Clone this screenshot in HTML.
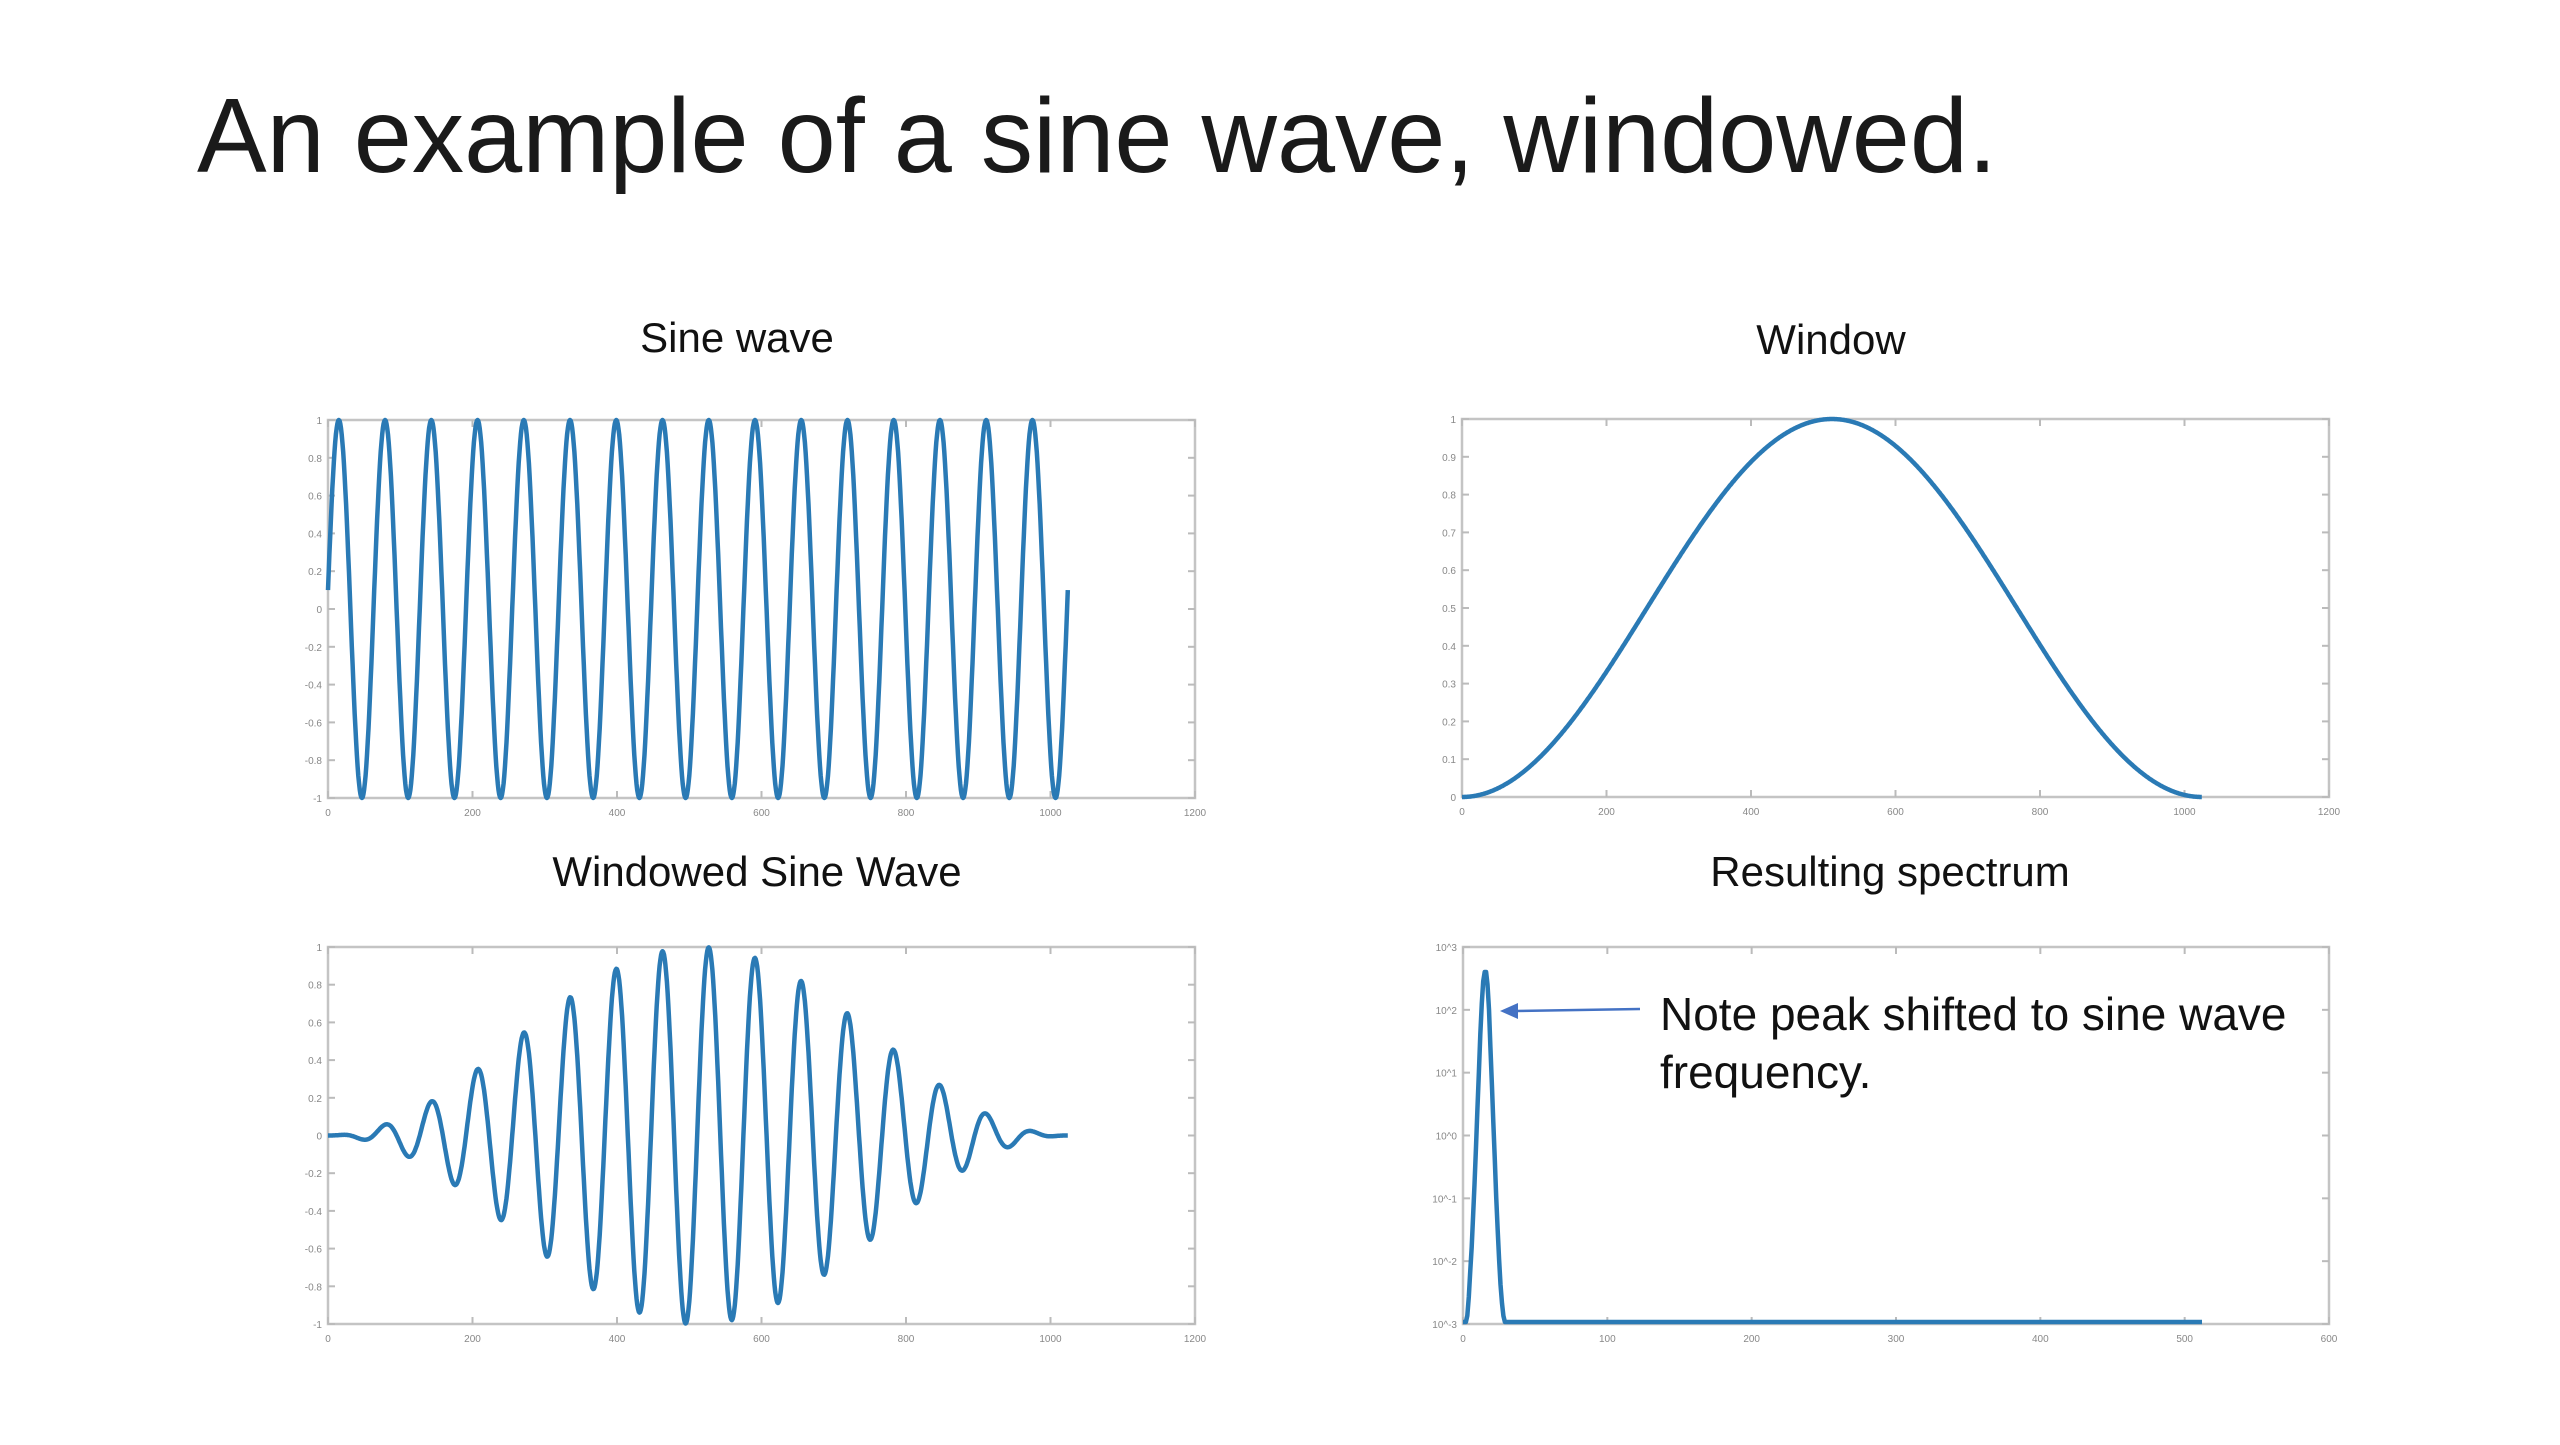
<!DOCTYPE html>
<html>
<head>
<meta charset="utf-8">
<style>
html,body{margin:0;padding:0;background:#fff;}
body{width:2560px;height:1440px;overflow:hidden;position:relative;font-family:"Liberation Sans",sans-serif;}
svg text{font-family:"Liberation Sans",sans-serif;}
</style>
</head>
<body>
<svg id="root" width="2560" height="1440" viewBox="0 0 2560 1440" xmlns="http://www.w3.org/2000/svg">
  <text x="197" y="172" font-size="106" fill="#1a1a1a" textLength="1800" lengthAdjust="spacingAndGlyphs">An example of a sine wave, windowed.</text>
  <text x="737" y="352" font-size="42" fill="#111" text-anchor="middle">Sine wave</text>
  <text x="1831" y="354" font-size="42" fill="#111" text-anchor="middle">Window</text>
  <text x="757" y="886" font-size="42" fill="#111" text-anchor="middle">Windowed Sine Wave</text>
  <text x="1890" y="886" font-size="42" fill="#111" text-anchor="middle">Resulting spectrum</text>
  <g id="plots"></g>
  <line x1="1640" y1="1009" x2="1515" y2="1011" stroke="#4472c4" stroke-width="2.5"/>
  <polygon points="1500,1011 1518,1003 1518,1019" fill="#4472c4"/>
  <text x="1660" y="1030" font-size="46" fill="#111">Note peak shifted to sine wave</text>
  <text x="1660" y="1088" font-size="46" fill="#111">frequency.</text>
</svg>
<script>
// ---- data ----
const sampleCount = [1024];
const sineCycles = [16];
const sineAmplitude = [1];
const sinePhase = [0.1];
const sineXTicks = ["0","200","400","600","800","1000","1200"];
const sineYTicks = ["-1","-0.8","-0.6","-0.4","-0.2","0","0.2","0.4","0.6","0.8","1"];
const windowYTicks = ["0","0.1","0.2","0.3","0.4","0.5","0.6","0.7","0.8","0.9","1"];
const spectrumXTicks = ["0","100","200","300","400","500","600"];
const spectrumYTicks = ["10^-3","10^-2","10^-1","10^0","10^1","10^2","10^3"];
// log10 magnitude, bins 0..34, rest at floor
const spectrumLog = [-3,-3,-3,-2.9,-2.6,-2.2,-1.8,-1.3,-0.8,-0.2,0.4,1.0,1.6,2.1,2.45,2.6,2.6,2.4,2.0,1.4,0.8,0.2,-0.4,-1.0,-1.5,-2.0,-2.4,-2.7,-2.9,-3,-3,-3,-3,-3,-3];
const spectrumBins = [512];
const spectrumFloor = [-3];

const NS="http://www.w3.org/2000/svg";
const plots=document.getElementById('plots');
const color="#2a7ab5";
function mk(tag,attrs,parent){const e=document.createElementNS(NS,tag);for(const k in attrs)e.setAttribute(k,attrs[k]);(parent||plots).appendChild(e);return e;}

function axes(name,box,xt,yt){
  const g=mk('g',{});
  
  
  const r=mk('rect',{x:box.x0,y:box.y0,width:box.x1-box.x0,height:box.y1-box.y0,fill:'none',stroke:'#c4c4c4','stroke-width':2.5},g);
  
  
  xt.forEach((t,i)=>{
    const x=box.x0+(box.x1-box.x0)*i/(xt.length-1);
    const l1=mk('line',{x1:x,y1:box.y1,x2:x,y2:box.y1-7,stroke:'#bbb','stroke-width':2},g);
    
    
    mk('line',{x1:x,y1:box.y0,x2:x,y2:box.y0+7,stroke:'#bbb','stroke-width':2},g);
    const tx=mk('text',{x:x,y:box.y1+18,'font-size':10,fill:'#888','text-anchor':'middle'},g);
    tx.textContent=t;
    
    
  });
  yt.forEach((t,i)=>{
    const y=box.y1-(box.y1-box.y0)*i/(yt.length-1);
    const l=mk('line',{x1:box.x0,y1:y,x2:box.x0+7,y2:y,stroke:'#bbb','stroke-width':2},g);
    
    
    mk('line',{x1:box.x1,y1:y,x2:box.x1-7,y2:y,stroke:'#bbb','stroke-width':2},g);
    const tx=mk('text',{x:box.x0-6,y:y+4,'font-size':10,fill:'#888','text-anchor':'end'},g);
    tx.textContent=t;
    
    
  });
}
function line(name,pts,xs,ys){
  let d='';
  pts.forEach((p,i)=>{d+=(i?'L':'M')+xs(p[0]).toFixed(1)+' '+ys(p[1]).toFixed(1);});
  const p=mk('path',{d:d,fill:'none',stroke:color,'stroke-width':4.5,'stroke-linejoin':'round'});
  
  
}
function scale(d0,d1,r0,r1){return v=>r0+(v-d0)/(d1-d0)*(r1-r0);}

const N=sampleCount[0];
const sine=[],win=[],wsine=[];
for(let n=0;n<=N;n++){
  const s=sineAmplitude[0]*Math.sin(2*Math.PI*sineCycles[0]*n/N+sinePhase[0]);
  const w=0.5-0.5*Math.cos(2*Math.PI*n/N);
  sine.push([n,s]);win.push([n,w]);wsine.push([n,s*w]);
}
let b={x0:328,x1:1195,y0:420,y1:798};
axes('sine',b,sineXTicks,sineYTicks);
line('sine-wave-line',sine,scale(0,1200,b.x0,b.x1),scale(-1,1,b.y1,b.y0));
b={x0:1462,x1:2329,y0:419,y1:797};
axes('window',b,sineXTicks,windowYTicks);
line('window-line',win,scale(0,1200,b.x0,b.x1),scale(0,1,b.y1,b.y0));
b={x0:328,x1:1195,y0:947,y1:1324};
axes('windowed',b,sineXTicks,sineYTicks);
line('windowed-sine-line',wsine,scale(0,1200,b.x0,b.x1),scale(-1,1,b.y1,b.y0));
b={x0:1463,x1:2329,y0:947,y1:1324};
axes('spectrum',b,spectrumXTicks,spectrumYTicks);
const sp=[];
for(let k=0;k<=spectrumBins[0];k++){sp.push([k,k<spectrumLog.length?spectrumLog[k]:spectrumFloor[0]]);}
line('spectrum-line',sp,scale(0,600,b.x0,b.x1),scale(-3,3,b.y1-2,b.y0));
</script>
</body>
</html>
